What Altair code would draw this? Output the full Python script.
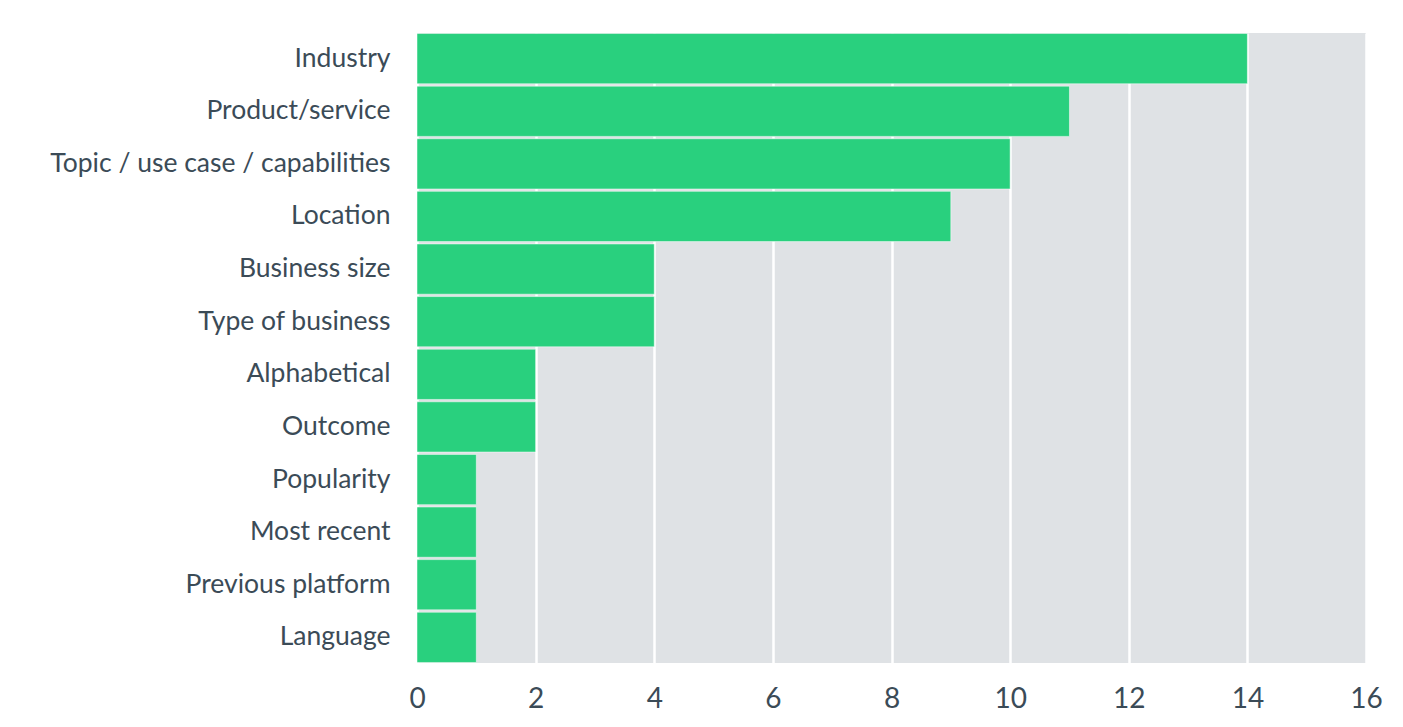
import altair as alt
import pandas as pd

categories = ["Industry", "Product/service", "Topic / use case / capabilities", "Location",
              "Business size", "Type of business", "Alphabetical", "Outcome",
              "Popularity", "Most recent", "Previous platform", "Language"]
counts = [14, 11, 10, 9, 4, 4, 2, 2, 1, 1, 1, 1]
x_ticks = [0, 2, 4, 6, 8, 10, 12, 14, 16]

df = pd.DataFrame({"category": categories, "count": counts})

chart = alt.Chart(df).mark_bar(color="#29d07e", stroke="#ffffff", strokeWidth=0.5).encode(
    x=alt.X("count:Q",
            scale=alt.Scale(domain=[0, 16], nice=False),
            axis=alt.Axis(values=x_ticks, title=None, grid=True, gridColor="#ffffff",
                          gridWidth=2.5, gridOpacity=1, ticks=False, domain=False,
                          labelFont="Lato", labelFontSize=28, labelColor="#3b4b57",
                          labelPadding=22, labelFlush=False)),
    y=alt.Y("category:N", sort=categories,
            scale=alt.Scale(paddingInner=0.045, paddingOuter=0.01),
            axis=alt.Axis(title=None, ticks=False, domain=False, labelFont="Lato",
                          labelFontSize=26.5, labelColor="#3b4b57", labelPadding=27,
                          labelLimit=400)),
).properties(
    width=949, height=630,
    padding={"left": 409, "top": 25, "right": 25, "bottom": 54},
    autosize=alt.AutoSizeParams(type="none"),
    background="#ffffff",
).configure_view(fill="#dfe2e5", stroke=None)

chart.save("out.html", embed_options={"renderer": "svg", "actions": False})
